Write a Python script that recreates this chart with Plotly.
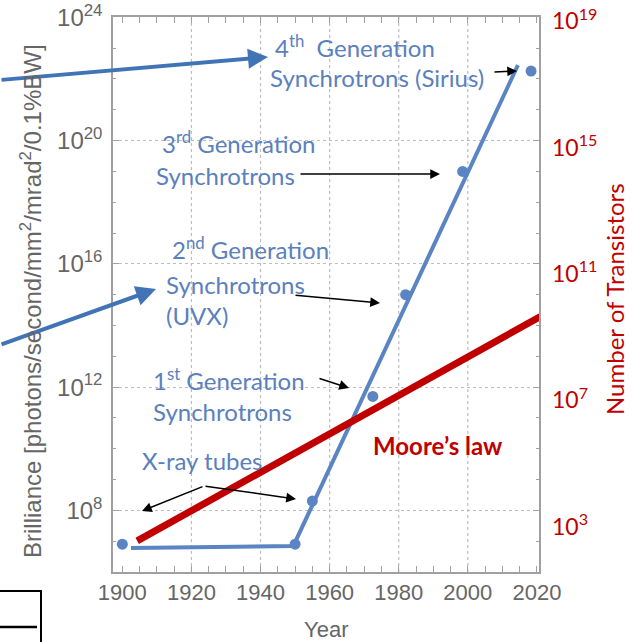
import plotly.graph_objects as go

# ---------------- data ----------------
point_years = [1900, 1950, 1955, 1972.5, 1982, 1998.5, 2018.3]
point_brilliance = [8e6, 8e6, 2e8, 5e11, 1e15, 1e19, 1.8e22]

fit_years = [1902.5, 1949.5, 2014.5]
fit_brilliance = [6e6, 7e6, 2.8e22]

moore_years = [1904.3, 2021]
moore_transistors = [350, 4.5e9]

x_ticks = [1900, 1920, 1940, 1960, 1980, 2000, 2020]
x_grid = [1920, 1940, 1960, 1980, 2000]
left_ticks = [1e8, 1e12, 1e16, 1e20, 1e24]
left_tick_labels = ["10<sup>8</sup>", "10<sup>12</sup>", "10<sup>16</sup>",
                    "10<sup>20</sup>", "10<sup>24</sup>"]
right_ticks = [1e3, 1e7, 1e11, 1e15, 1e19]
right_tick_labels = ["10<sup>3</sup>", "10<sup>7</sup>", "10<sup>11</sup>",
                     "10<sup>15</sup>", "10<sup>19</sup>"]

BLUE = "#5b84c2"
TXTBLUE = "#5a80bd"
ARROWBLUE = "#4174b6"
RED = "#c00000"
GRAY = "#666666"
FRAME = "#a0a0a0"

W, H = 636, 642
PL, PR, PT, PB = 113, 539, 17, 572


def px(x):
    return (x - PL) / (PR - PL)


def py(y):
    return (PB - y) / (PB - PT)


fig = go.Figure()

fig.add_trace(go.Scatter(x=fit_years, y=fit_brilliance, mode="lines",
                         line=dict(color=BLUE, width=4), yaxis="y",
                         showlegend=False, hoverinfo="skip"))
fig.add_trace(go.Scatter(x=point_years, y=point_brilliance, mode="markers",
                         marker=dict(color=BLUE, size=11), yaxis="y",
                         showlegend=False, cliponaxis=False))
fig.add_trace(go.Scatter(x=moore_years, y=moore_transistors, mode="lines",
                         line=dict(color=RED, width=7), yaxis="y2",
                         showlegend=False))

shapes = []
for g in x_grid:
    shapes.append(dict(type="line", xref="x", yref="paper", x0=g, x1=g, y0=0, y1=1,
                       line=dict(color="#bdbdbd", width=1.2, dash="dot"), layer="below"))
# cropped box at bottom-left
shapes.append(dict(type="rect", xref="paper", yref="paper",
                   x0=px(-3), x1=px(41), y0=py(591), y1=py(660),
                   line=dict(color="black", width=2)))
shapes.append(dict(type="line", xref="paper", yref="paper",
                   x0=px(0), x1=px(37), y0=py(627), y1=py(627),
                   line=dict(color="black", width=2.5)))

ann = []


def text(s, x, y, color=TXTBLUE, size=24, bold=False, anchor="left"):
    ann.append(dict(text=("<b>%s</b>" % s) if bold else s, xref="paper", yref="paper",
                    x=px(x), y=py(y), xanchor=anchor, yanchor="middle", showarrow=False,
                    font=dict(family="Lato", size=size, color=color)))


def arrow(tail, head, color="black", width=1.5, head_style=2, size=1.3):
    ann.append(dict(text="", xref="paper", yref="paper", x=px(head[0]), y=py(head[1]),
                    ax=tail[0] - head[0], ay=tail[1] - head[1], axref="pixel", ayref="pixel",
                    showarrow=True, arrowhead=head_style, arrowsize=size,
                    arrowwidth=width, arrowcolor=color))


text("4<sup>th</sup>  Generation", 273, 46)
text("Synchrotrons (Sirius)", 268, 77)
text("3<sup>rd</sup> Generation", 160, 142)
text("Synchrotrons", 154, 175)
text("2<sup>nd</sup> Generation", 170, 248)
text("Synchrotrons", 164, 284)
text("(UVX)", 164, 315)
text("1<sup>st</sup> Generation", 151, 379)
text("Synchrotrons", 151, 411)
text("X-ray tubes", 140, 460)
text("Moore’s law", 371, 445, color=RED, bold=True)

arrow((493, 72), (517, 71))
arrow((299, 174), (440, 174))
arrow((294, 295), (380, 303))
arrow((318, 378), (349, 388))
arrow((204, 486), (142, 511))
arrow((204, 486), (296, 499))
arrow((0, 80), (268, 57), color=ARROWBLUE, width=4, size=1)
arrow((0, 345), (156, 289), color=ARROWBLUE, width=4, size=1)

# axis titles
ann.append(dict(text="Brilliance [photons/second/mm<sup>2</sup>/mrad<sup>2</sup>/0.1%BW]",
                xref="paper", yref="paper", x=px(31), y=py(301), textangle=-90,
                showarrow=False, xanchor="center", yanchor="middle",
                font=dict(family="Liberation Sans", size=24, color=GRAY)))
ann.append(dict(text="Number of Transistors", xref="paper", yref="paper",
                x=px(615), y=py(299), textangle=-90, showarrow=False,
                xanchor="center", yanchor="middle",
                font=dict(family="Lato", size=24, color=RED)))
ann.append(dict(text="Year", xref="paper", yref="paper", x=px(326), y=py(629),
                showarrow=False, xanchor="center", yanchor="middle",
                font=dict(family="Liberation Sans", size=22, color=GRAY)))

fig.update_layout(
    width=W, height=H,
    margin=dict(l=PL, r=W - PR, t=PT, b=H - PB),
    paper_bgcolor="white", plot_bgcolor="white",
    shapes=shapes, annotations=ann,
    xaxis=dict(range=[1897.3, 2020.6], tickvals=x_ticks, showgrid=False, automargin=False,
               showline=True, linecolor=FRAME, linewidth=1.5, mirror="allticks",
               ticks="inside", ticklen=6, tickcolor=FRAME, ticklabelstandoff=0,
               minor=dict(dtick=5, tick0=1900, ticks="inside", ticklen=3, tickcolor=FRAME),
               tickfont=dict(family="Liberation Sans", size=22, color=GRAY), zeroline=False),
    yaxis=dict(type="log", range=[6, 24.01], tickvals=left_ticks, ticktext=left_tick_labels,
               automargin=False,
               showgrid=True, gridcolor="#bdbdbd", griddash="dot", gridwidth=1.2,
               showline=True, linecolor=FRAME, linewidth=1.5, mirror="allticks",
               ticks="inside", ticklen=6, tickcolor=FRAME, ticklabelstandoff=4,
               minor=dict(dtick=1, ticks="inside", ticklen=3, tickcolor=FRAME),
               tickfont=dict(family="Liberation Sans", size=24, color=GRAY), zeroline=False),
    yaxis2=dict(type="log", range=[1.56, 19.14], overlaying="y", side="right",
                automargin=False,
                tickvals=right_ticks, ticktext=right_tick_labels, showgrid=False,
                showline=False, ticks="", zeroline=False, ticklabelstandoff=12,
                tickfont=dict(family="Lato", size=23, color=RED)),
)

fig.write_html("out.html")
